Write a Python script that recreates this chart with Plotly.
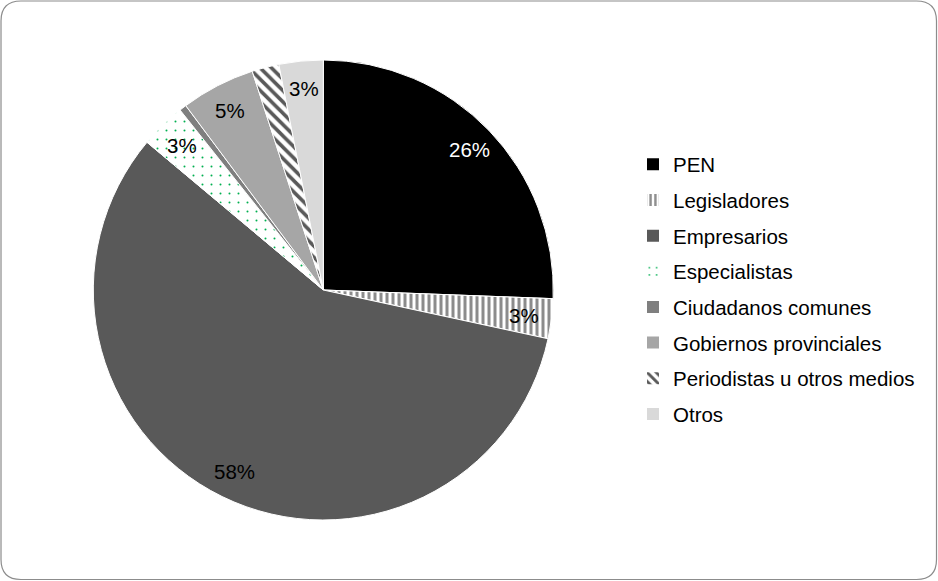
import math
import plotly.graph_objects as go

categories = ["PEN", "Legisladores", "Empresarios", "Especialistas",
              "Ciudadanos comunes", "Gobiernos provinciales",
              "Periodistas u otros medios", "Otros"]
values = [25.6, 2.8, 57.7, 3.2, 0.5, 5.2, 1.9, 3.1]

colors = ["#000000", "#ffffff", "#595959", "#ffffff",
          "#7f7f7f", "#a6a6a6", "#ffffff", "#d9d9d9"]
pattern_shapes = ["", "|", "", ".", "", "", "\\", ""]
pattern_fg = ["#000000", "#8c8c8c", "#595959", "#00b050",
              "#7f7f7f", "#a6a6a6", "#595959", "#d9d9d9"]
pattern_size = [8, 6, 8, 9, 8, 8, 8, 8]
pattern_solidity = [0.3, 0.5, 0.3, 0.04, 0.3, 0.3, 0.45, 0.3]
label_colors = ["#ffffff", "#000000", "#000000", "#000000",
                "#000000", "#000000", "#000000", "#000000"]

W, H = 938, 581
cx, cy, R = 323.3, 290.0, 230.0
FONT = "Liberation Sans, Arial, sans-serif"
FS = 20.5

fig = go.Figure()
fig.add_trace(go.Pie(
    labels=categories,
    values=values,
    sort=False,
    direction="clockwise",
    rotation=0,
    textinfo="none",
    hoverinfo="label+percent",
    showlegend=False,
    marker=dict(
        colors=colors,
        line=dict(color="#ffffff", width=1),
        pattern=dict(shape=pattern_shapes, fgcolor=pattern_fg,
                     bgcolor=colors, size=pattern_size,
                     solidity=pattern_solidity, fillmode="replace"),
    ),
    domain=dict(x=[(cx - R) / W, (cx + R) / W],
                y=[1 - (cy + R) / H, 1 - (cy - R) / H]),
))

# legend entries (one group per category so the spacing can be matched)
for i, cat in enumerate(categories):
    fig.add_trace(go.Bar(
        x=[None], y=[None], name=cat, legendgroup=f"g{i}",
        showlegend=True, hoverinfo="skip",
        marker=dict(color=colors[i], line=dict(width=0),
                    pattern=dict(shape=pattern_shapes[i], fgcolor=pattern_fg[i],
                                 bgcolor=colors[i], size=pattern_size[i],
                                 solidity=pattern_solidity[i], fillmode="replace")),
    ))

# percentage labels placed along each slice's bisector
total = sum(values)
cum = 0.0
annotations = []
for cat, v, lc in zip(categories, values, label_colors):
    mid = (cum + v / 2) / total * 2 * math.pi
    cum += v
    pct = round(v / total * 100)
    if pct < 3:
        continue
    r = 0.88 * R
    px = cx + r * math.sin(mid)
    py = cy - r * math.cos(mid)
    annotations.append(dict(
        x=px / W, y=1 - py / H, xref="paper", yref="paper",
        text=f"{pct}%", showarrow=False,
        font=dict(family=FONT, size=FS, color=lc),
        xanchor="center", yanchor="middle",
    ))

# rounded outer border
x0, y0, x1, y1, rr = 1, 1, 936.5, 579.5, 20
def P(x, y):
    return f"{x / W:.5f},{1 - y / H:.5f}"
path = (f"M {P(x0 + rr, y0)} L {P(x1 - rr, y0)} Q {P(x1, y0)} {P(x1, y0 + rr)} "
        f"L {P(x1, y1 - rr)} Q {P(x1, y1)} {P(x1 - rr, y1)} "
        f"L {P(x0 + rr, y1)} Q {P(x0, y1)} {P(x0, y1 - rr)} "
        f"L {P(x0, y0 + rr)} Q {P(x0, y0)} {P(x0 + rr, y0)} Z")

fig.update_layout(
    width=W, height=H,
    margin=dict(l=0, r=0, t=0, b=0),
    paper_bgcolor="#ffffff",
    plot_bgcolor="rgba(0,0,0,0)",
    font=dict(family=FONT, size=FS, color="#000000"),
    showlegend=True,
    xaxis=dict(visible=False),
    yaxis=dict(visible=False),
    legend=dict(x=633 / W, xanchor="left", y=1 - 289.5 / H, yanchor="middle",
                font=dict(family=FONT, size=FS, color="#000000"),
                bgcolor="rgba(0,0,0,0)", traceorder="grouped",
                tracegroupgap=6),
    annotations=annotations,
    shapes=[dict(type="path", path=path, xref="paper", yref="paper",
                 line=dict(color="#8c8c8c", width=1.2), layer="above")],
)

fig.write_html("out.html")
